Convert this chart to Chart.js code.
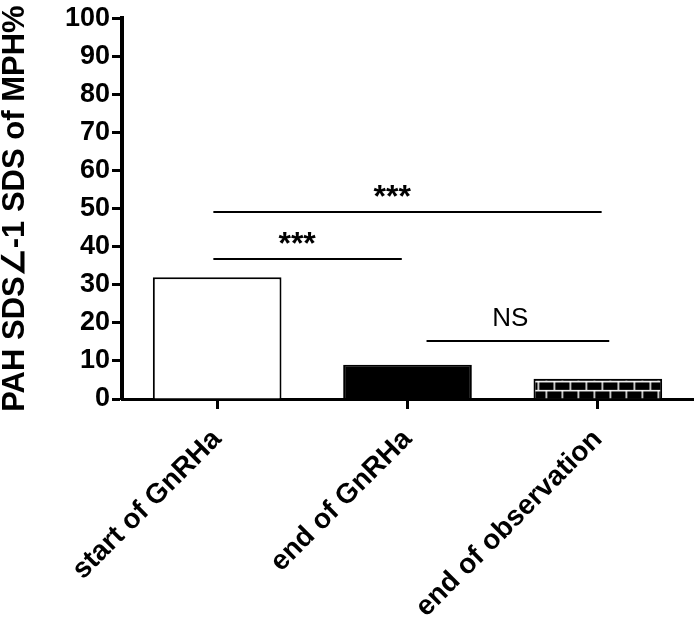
<!DOCTYPE html>
<html>
<head>
<meta charset="utf-8">
<script src="https://cdn.jsdelivr.net/npm/chart.js@4"></script>
<style>
  html, body { margin: 0; padding: 0; background: #fff; }
  #wrap { width: 700px; height: 630px; }
</style>
</head>
<body>
<div id="wrap"><canvas id="c" width="700" height="630"></canvas></div>
<script>
// ---- data ----
const categories = ['start of GnRHa', 'end of GnRHa', 'end of observation'];
const values = [32, 9, 5.3];
const yTickMin = 0;
const yTickMax = 100;
const yTickStep = 10;
const yTitle = 'PAH SDS\u2220-1 SDS of MPH%';
// significance brackets (category index units, value units)
const bracketStart = [-0.02, -0.02, 1.1];
const bracketEnd = [2.02, 0.97, 2.06];
const bracketY = [49, 36.7, 15.3];
const bracketText = ['***', '***', 'NS'];
const bracketTextX = [0.92, 0.42, 1.54];
const bracketTextY = [52.8, 40.3, 21.0];

const FONT = '"Liberation Sans", Arial, Helvetica, sans-serif';

// brick pattern
function makeBrick() {
  const t = document.createElement('canvas');
  t.width = 16; t.height = 18;
  const g = t.getContext('2d');
  g.fillStyle = '#000'; g.fillRect(0, 0, 16, 18);
  g.fillStyle = '#fff';
  g.fillRect(0, 0, 16, 1.5);
  g.fillRect(0, 9, 16, 1.5);
  g.fillRect(4, 0, 1.5, 9);
  g.fillRect(12, 9, 1.5, 9);
  return t;
}
const ctx0 = document.getElementById('c').getContext('2d');
const brick = ctx0.createPattern(makeBrick(), 'repeat');

const patternAlign = {
  id: 'patternAlign',
  beforeDatasetsDraw(chart) {
    const el = chart.getDatasetMeta(0).data[2];
    if (!el) return;
    const left = el.x - el.width / 2;
    const top = el.y + 2;
    brick.setTransform(new DOMMatrix([1, 0, 0, 1, left, top]));
  }
};

const brackets = {
  id: 'brackets',
  afterDatasetsDraw(chart) {
    const { ctx, scales: { x, y } } = chart;
    ctx.save();
    ctx.strokeStyle = '#000';
    ctx.fillStyle = '#000';
    ctx.lineWidth = 2;
    for (let i = 0; i < bracketY.length; i++) {
      const py = Math.round(y.getPixelForValue(bracketY[i]));
      ctx.beginPath();
      ctx.moveTo(x.getPixelForValue(bracketStart[i]), py);
      ctx.lineTo(x.getPixelForValue(bracketEnd[i]), py);
      ctx.stroke();
      const isStar = bracketText[i].indexOf('*') >= 0;
      ctx.font = (isStar ? 'bold 32px ' : '26px ') + FONT;
      ctx.textAlign = 'center';
      ctx.textBaseline = 'middle';
      ctx.fillText(bracketText[i], x.getPixelForValue(bracketTextX[i]), y.getPixelForValue(bracketTextY[i]));
    }
    ctx.restore();
  }
};

new Chart(document.getElementById('c'), {
  type: 'bar',
  data: {
    labels: categories,
    datasets: [{
      data: values,
      backgroundColor: ['#ffffff', '#000000', brick],
      borderColor: '#000',
      borderWidth: 2,
      borderSkipped: 'bottom',
      barPercentage: 0.676,
      categoryPercentage: 1.0
    }]
  },
  options: {
    responsive: false,
    animation: false,
    devicePixelRatio: 1,
    layout: { padding: { top: 7, right: 7, left: 0, bottom: 0 } },
    plugins: { legend: { display: false }, tooltip: { enabled: false }, title: { display: false } },
    scales: {
      x: {
        offset: true,
        border: { display: true, color: '#000', width: 3 },
        grid: { display: true, drawOnChartArea: false, offset: false, drawTicks: true, tickLength: 10, tickWidth: 3, tickColor: '#000', color: '#000' },
        ticks: { color: '#000', font: { family: FONT, size: 28, weight: 'bold' }, minRotation: 45, maxRotation: 45, padding: 14, autoSkip: false },
        afterFit(s) { s.height = 231; }
      },
      y: {
        min: yTickMin, max: yTickMax,
        border: { display: true, color: '#000', width: 4 },
        grid: { display: true, drawOnChartArea: false, drawTicks: true, tickLength: 10, tickWidth: 3, tickColor: '#000', color: '#000' },
        ticks: { stepSize: yTickStep, color: '#000', font: { family: FONT, size: 27, weight: 'bold' }, padding: 2 },
        title: { display: true, text: yTitle, color: '#000', font: { family: FONT, size: 31, weight: 'bold', lineHeight: 1 }, padding: { top: 0, bottom: 0 } },
        afterFit(s) { s.width = 122; }
      }
    }
  },
  plugins: [patternAlign, brackets]
});
</script>
</body>
</html>
